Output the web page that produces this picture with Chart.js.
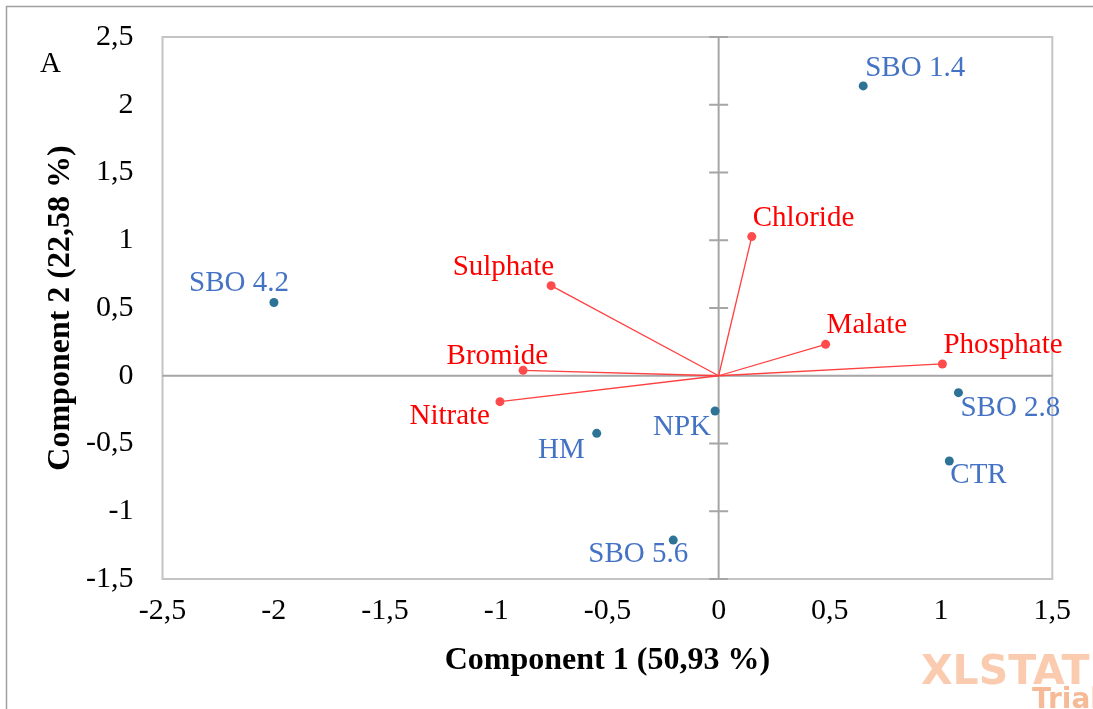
<!DOCTYPE html>
<html>
<head>
<meta charset="utf-8">
<script src="https://cdn.jsdelivr.net/npm/chart.js@4.4.0/dist/chart.umd.min.js"></script>
<style>
  html, body { margin: 0; padding: 0; background: #ffffff; }
  #wrap { width: 1093px; height: 709px; position: relative; }
  canvas { display: block; }
</style>
</head>
<body>
<div id="wrap"><canvas id="biplot" width="1093" height="709"></canvas></div>
<script>
// Observations (factor scores)
const observationNames = ['SBO 1.4', 'SBO 2.8', 'SBO 4.2', 'SBO 5.6', 'CTR', 'HM', 'NPK'];
const observationX = [0.650, 1.078, -1.999, -0.204, 1.037, -0.548, -0.016];
const observationY = [2.139, -0.125, 0.541, -1.213, -0.629, -0.425, -0.260];

// Variables (loadings drawn as vectors from the origin)
const variableNames = ['Chloride', 'Sulphate', 'Bromide', 'Nitrate', 'Malate', 'Phosphate'];
const variableX = [0.149, -0.753, -0.879, -0.983, 0.481, 1.006];
const variableY = [1.027, 0.665, 0.040, -0.191, 0.232, 0.087];

// Axis ticks
const xTickValues = [-2.5, -2, -1.5, -1, -0.5, 0, 0.5, 1, 1.5];
const yTickValues = [-1.5, -1, -0.5, 0, 0.5, 1, 1.5, 2, 2.5];

const xTitle = 'Component 1 (50,93 %)';
const yTitle = 'Component 2 (22,58 %)';
const panelLetter = 'A';

// Label placement: [text alignment, horizontal shift, baseline shift] in px
const observationLabelPlace = [
  ['left', 2, -10], ['left', 2, 23], ['right', 15, -11], ['right', 15, 22],
  ['left', 1, 22], ['right', -12, 25], ['right', -4, 24]
];
const variableLabelPlace = [
  ['left', 1, -10.5], ['right', 3, -10.7], ['right', 25, -6],
  ['right', -10, 22.6], ['left', 1, -11], ['left', 1, -11]
];

const SERIF = '"Liberation Serif", "Times New Roman", serif';
const OBS_DOT = '#2C7396';
const OBS_TEXT = '#4472C4';
const VAR_DOT = '#FF4B4B';
const VAR_LINE = '#FF4040';
const VAR_TEXT = '#FF0000';
const AXIS_GREY = '#A6A6A6';

const fmt = v => String(v).replace('.', ',');

const datasets = [{
  label: 'Observations',
  data: observationX.map((x, i) => ({ x, y: observationY[i] })),
  pointRadius: 4.5,
  pointBackgroundColor: OBS_DOT,
  pointBorderWidth: 0,
  showLine: false,
  order: 1
}];
variableNames.forEach((name, i) => {
  datasets.push({
    label: name,
    data: [{ x: 0, y: 0 }, { x: variableX[i], y: variableY[i] }],
    showLine: true,
    borderColor: VAR_LINE,
    borderWidth: 1.3,
    pointRadius: [0, 4.5],
    pointBackgroundColor: VAR_DOT,
    pointBorderWidth: 0,
    order: 2
  });
});

const decor = {
  id: 'biplotDecor',
  beforeDraw(chart) {
    const c = chart.ctx;
    c.save();
    c.fillStyle = '#ffffff';
    c.fillRect(0, 0, chart.width, chart.height);
    // outer frame
    c.strokeStyle = '#A0A0A0';
    c.lineWidth = 1.5;
    c.beginPath();
    c.moveTo(6.5, chart.height);
    c.lineTo(6.5, 6.5);
    c.lineTo(chart.width, 6.5);
    c.stroke();
    c.restore();
  },
  beforeDatasetsDraw(chart) {
    const c = chart.ctx;
    const a = chart.chartArea;
    const xs = chart.scales.x, ys = chart.scales.y;
    c.save();
    // plot frame
    c.strokeStyle = '#C4C4C4';
    c.lineWidth = 2;
    c.strokeRect(a.left, a.top, a.right - a.left, a.bottom - a.top);
    // zero axes
    const x0 = xs.getPixelForValue(0);
    const y0 = ys.getPixelForValue(0);
    c.strokeStyle = AXIS_GREY;
    c.lineWidth = 2;
    c.beginPath();
    c.moveTo(a.left, y0); c.lineTo(a.right, y0);
    c.moveTo(x0, a.top); c.lineTo(x0, a.bottom);
    // tick marks on the vertical axis
    yTickValues.forEach(v => {
      const py = ys.getPixelForValue(v);
      c.moveTo(x0 - 9.5, py); c.lineTo(x0 + 9.5, py);
    });
    c.stroke();
    c.restore();
  },
  afterDatasetsDraw(chart) {
    const c = chart.ctx;
    const xs = chart.scales.x, ys = chart.scales.y;
    c.save();
    c.font = '29px ' + SERIF;
    c.textBaseline = 'alphabetic';
    const put = (name, x, y, place, color) => {
      const px = xs.getPixelForValue(x), py = ys.getPixelForValue(y);
      c.fillStyle = color;
      c.textAlign = place[0];
      c.fillText(name, px + place[1], py + place[2]);
    };
    variableNames.forEach((n, i) => put(n, variableX[i], variableY[i], variableLabelPlace[i], VAR_TEXT));
    observationNames.forEach((n, i) => put(n, observationX[i], observationY[i], observationLabelPlace[i], OBS_TEXT));

    // panel letter
    c.fillStyle = '#000000';
    c.textAlign = 'left';
    c.fillText(panelLetter, 40, 72);

    // software watermark
    c.font = 'bold 41px "DejaVu Sans", sans-serif';
    c.fillStyle = 'rgba(246, 160, 110, 0.55)';
    c.fillText('XLSTAT', 921, 684);
    c.font = 'bold 28px "DejaVu Sans", sans-serif';
    c.fillStyle = 'rgba(240, 140, 80, 0.6)';
    c.fillText('Trial', 1032, 708);
    c.restore();
  }
};

new Chart(document.getElementById('biplot'), {
  type: 'scatter',
  data: { datasets },
  plugins: [decor],
  options: {
    responsive: false,
    animation: false,
    devicePixelRatio: 1,
    layout: { padding: { top: 37, right: 40.7, left: 0, bottom: 0 } },
    plugins: { legend: { display: false }, tooltip: { enabled: false } },
    scales: {
      x: {
        type: 'linear',
        position: 'bottom',
        min: -2.5, max: 1.5,
        grid: { display: false, drawTicks: false },
        border: { display: false },
        afterBuildTicks: s => { s.ticks = xTickValues.map(v => ({ value: v })); },
        afterFit: s => { s.height = 130; s.paddingLeft = 0; s.paddingRight = 0; },
        ticks: {
          autoSkip: false, maxRotation: 0, padding: 14, color: '#000000',
          font: { family: SERIF, size: 30 },
          callback: v => fmt(v)
        },
        title: {
          display: true, text: xTitle, color: '#000000',
          font: { family: SERIF, size: 32, weight: 'bold' },
          padding: { top: 0, bottom: 29 }
        }
      },
      y: {
        type: 'linear',
        position: 'left',
        min: -1.5, max: 2.5,
        grid: { display: false, drawTicks: false },
        border: { display: false },
        afterBuildTicks: s => { s.ticks = yTickValues.map(v => ({ value: v })); },
        afterFit: s => { s.width = 162.5; s.paddingTop = 0; s.paddingBottom = 0; },
        ticks: {
          autoSkip: false, padding: 29, color: '#000000',
          font: { family: SERIF, size: 30 },
          callback: v => fmt(v)
        },
        title: {
          display: true, text: yTitle, color: '#000000',
          font: { family: SERIF, size: 32, weight: 'bold' },
          padding: { top: 42, bottom: 0 }
        }
      }
    }
  }
});
</script>
</body>
</html>
